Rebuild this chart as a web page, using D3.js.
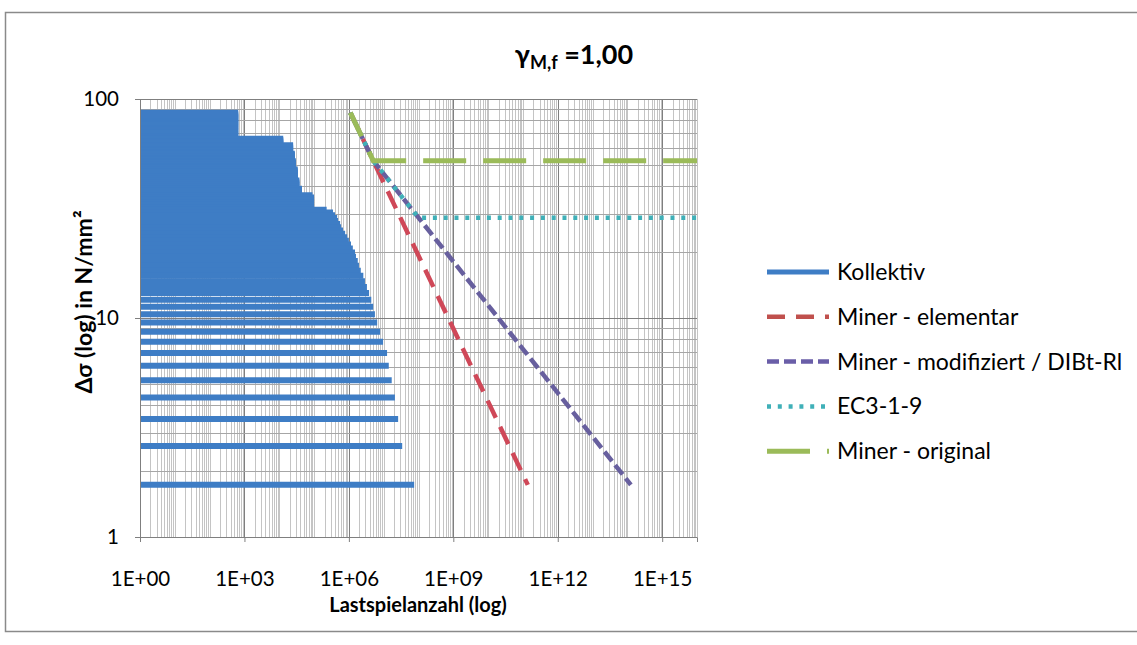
<!DOCTYPE html>
<html>
<head>
<meta charset="utf-8">
<script src="https://cdn.jsdelivr.net/npm/d3@7"></script>
<style>
  body { margin: 0; background: #fff; }
  svg { display: block; }
  text { font-family: Lato, "Open Sans", "Liberation Sans", sans-serif; fill: #000; }
</style>
</head>
<body>
<svg id="chart" width="1137" height="645"></svg>
<script>
// Load spectrum (Kollektiv): stress range levels in N/mm², highest first,
// and the cumulative number of cycles reached at each level.
const stressLevels = [
  86.60, 85.74, 84.87, 84.00, 83.14, 82.27, 81.41, 80.54, 79.67, 78.81,
  77.94, 77.08, 76.21, 75.34, 74.48, 73.61, 72.75, 71.88, 71.01, 70.15,
  69.28, 68.42, 67.55, 66.68, 65.82, 64.95, 64.09, 63.22, 62.35, 61.49,
  60.62, 59.76, 58.89, 58.02, 57.16, 56.29, 55.43, 54.56, 53.69, 52.83,
  51.96, 51.10, 50.23, 49.36, 48.50, 47.63, 46.77, 45.90, 45.03, 44.17,
  43.30, 42.44, 41.57, 40.70, 39.84, 38.97, 38.11, 37.24, 36.37, 35.51,
  34.64, 33.78, 32.91, 32.04, 31.18, 30.31, 29.45, 28.58, 27.71, 26.85,
  25.98, 25.12, 24.25, 23.38, 22.52, 21.65, 20.79, 19.92, 19.05, 18.19,
  17.32, 16.45, 15.59, 14.72, 13.86, 12.99, 12.12, 11.26, 10.39, 9.53,
  8.66, 7.79, 6.93, 6.06, 5.20, 4.33, 3.46, 2.60, 1.73
];
const cycleCounts = [
  6.6e2, 6.6e2, 6.6e2, 6.6e2, 6.6e2, 6.6e2, 6.6e2, 6.6e2, 6.6e2, 6.6e2,
  6.6e2, 6.6e2, 6.6e2, 6.6e2, 6.6e2, 6.6e2, 6.6e2, 6.6e2, 6.6e2, 6.6e2,
  6.6e2, 6.6e2, 6.6e2, 6.6e2, 1.3e4, 1.3e4, 1.3e4, 1.3e4, 1.3e4, 2.5e4,
  2.5e4, 2.5e4, 2.5e4, 2.5e4, 2.5e4, 2.8e4, 2.8e4, 2.8e4, 2.8e4, 2.8e4,
  3.0e4, 3.0e4, 3.0e4, 3.0e4, 3.0e4, 3.4e4, 3.4e4, 3.4e4, 3.4e4, 3.4e4,
  3.4e4, 3.8e4, 3.8e4, 3.8e4, 3.8e4, 4.5e4, 4.5e4, 4.5e4, 9.0e4, 1.0e5,
  1.0e5, 1.0e5, 1.0e5, 1.0e5, 2.3e5, 3.5e5, 4.0e5, 4.6e5, 4.9e5, 5.6e5,
  6.0e5, 6.8e5, 7.8e5, 8.9e5, 1.0e6, 1.15e6, 1.3e6, 1.5e6, 1.6e6, 1.8e6,
  1.95e6, 2.2e6, 2.6e6, 2.9e6, 3.3e6, 3.8e6, 4.4e6, 5.0e6, 5.6e6, 6.5e6,
  7.9e6, 9.6e6, 1.25e7, 1.4e7, 1.7e7, 2.1e7, 2.6e7, 3.4e7, 7.5e7
];

// S-N curves as [cycles, stress range] vertices
const minerElementar   = [[1.1e6, 86.6], [1.38e11, 1.73]];
const minerModifiziert = [[1.1e6, 86.6], [5e6, 52.3], [1.26e14, 1.73]];
const ec319            = [[1.1e6, 86.6], [5e6, 52.3], [1e8, 28.7], [1e16, 28.7]];
const minerOriginal    = [[1.1e6, 86.6], [5e6, 52.3], [1e16, 52.3]];

const seriesNames = ["Kollektiv", "Miner - elementar", "Miner - modifiziert / DIBt-Rl", "EC3-1-9", "Miner - original"];

const xTickValues = [1, 1e3, 1e6, 1e9, 1e12, 1e15];
const xTickLabels = ["1E+00", "1E+03", "1E+06", "1E+09", "1E+12", "1E+15"];
const yTickValues = [1, 10, 100];
const yTickLabels = ["1", "10", "100"];

const svg = d3.select("#chart");

// chart frame
svg.append("rect")
  .attr("x", 5.5).attr("y", 12.5).attr("width", 1140).attr("height", 619)
  .attr("fill", "#fff").attr("stroke", "#8a8a8a").attr("stroke-width", 1.5);

const plot = { left: 140, right: 697, top: 99, bottom: 537 };
const x = d3.scaleLog().domain([1, 1e16]).range([plot.left, plot.right]);
const y = d3.scaleLog().domain([1, 100]).range([plot.bottom, plot.top]);

svg.append("defs").append("clipPath").attr("id", "plotClip")
  .append("rect")
  .attr("x", plot.left).attr("y", plot.top - 4)
  .attr("width", plot.right - plot.left + 4).attr("height", plot.bottom - plot.top + 4);

const crisp = v => Math.round(v) + 0.5;

// vertical gridlines: every 1..9 × 10^n, darker at the labelled decades
const grid = svg.append("g");
const xGridVals = [];
for (let n = 0; n < 16; n++) for (let m = 1; m <= 9; m++) xGridVals.push(m * Math.pow(10, n));
xGridVals.push(1e16);
const xMajorSet = new Set(xTickValues);
grid.selectAll("line.vx").data(xGridVals).join("line")
  .attr("x1", d => crisp(x(d))).attr("x2", d => crisp(x(d)))
  .attr("y1", plot.top).attr("y2", plot.bottom)
  .attr("stroke", d => xMajorSet.has(d) ? "#7f7f7f" : "#c4c4c4")
  .attr("stroke-width", 1);

// horizontal gridlines
const yGridVals = [];
for (let n = 0; n < 2; n++) for (let m = 1; m <= 9; m++) yGridVals.push(m * Math.pow(10, n));
yGridVals.push(100);
const yMajorSet = new Set(yTickValues);
grid.selectAll("line.hy").data(yGridVals).join("line")
  .attr("x1", plot.left).attr("x2", plot.right)
  .attr("y1", d => crisp(y(d))).attr("y2", d => crisp(y(d)))
  .attr("stroke", d => yMajorSet.has(d) ? "#7f7f7f" : "#a6a6a6")
  .attr("stroke-width", 1);

// Kollektiv: one horizontal line per stress level from N = 1 to its cycle count
const spectrum = stressLevels.map((s, i) => ({ s, n: cycleCounts[i] }));
svg.append("g").attr("clip-path", "url(#plotClip)")
  .selectAll("line").data(spectrum).join("line")
  .attr("x1", x(1)).attr("x2", d => x(d.n))
  .attr("y1", d => y(d.s)).attr("y2", d => y(d.s))
  .attr("stroke", "#3e7dc5").attr("stroke-width", 6);

// S-N curves
const line = d3.line().x(d => x(d[0])).y(d => y(d[1]));
const curves = [
  { data: minerElementar,   color: "#cf4858", dash: "19,10", width: 4.5, offset: 0 },
  { data: minerModifiziert, color: "#675f9e", dash: "12,5",  width: 4.5, offset: 0 },
  { data: ec319,            color: "#3fb0b8", dash: "4,6.8", width: 4.5, offset: 0 },
  { data: minerOriginal,    color: "#9bbb59", dash: "43,17", width: 5,   offset: 16.9 }
];
svg.append("g").attr("clip-path", "url(#plotClip)")
  .selectAll("path").data(curves).join("path")
  .attr("d", d => line(d.data))
  .attr("fill", "none")
  .attr("stroke", d => d.color)
  .attr("stroke-width", d => d.width)
  .attr("stroke-dasharray", d => d.dash)
  .attr("stroke-dashoffset", d => d.offset);

// axes
const xAxis = d3.axisBottom(x).tickValues(xTickValues)
  .tickFormat((d, i) => xTickLabels[i]).tickSize(5);
const gx = svg.append("g").attr("transform", `translate(0,${crisp(plot.bottom) - 0.5})`).call(xAxis);
gx.select(".domain").attr("stroke", "#7f7f7f");
gx.selectAll(".tick line").attr("stroke", "#7f7f7f");
gx.selectAll("text").attr("font-size", 20.5).attr("fill", "#000")
  .attr("y", 42).attr("dy", "0.36em");

const yAxis = d3.axisLeft(y).tickValues(yTickValues)
  .tickFormat((d, i) => yTickLabels[i]).tickSize(5).tickPadding(16);
const gy = svg.append("g").attr("transform", `translate(${crisp(plot.left) - 0.5},0)`).call(yAxis);
gy.select(".domain").attr("stroke", "#7f7f7f");
gy.selectAll(".tick line").attr("stroke", "#7f7f7f");
gy.selectAll("text").attr("font-size", 20.5).attr("fill", "#000");

// titles
const title = svg.append("text").attr("x", 574).attr("y", 64)
  .attr("text-anchor", "middle").attr("font-size", 27).attr("font-weight", "bold");
title.append("tspan").text("γ");
title.append("tspan").attr("font-size", 18).attr("dy", 5).text("M,f");
title.append("tspan").attr("dy", -5).text(" =1,00");

svg.append("text").attr("x", 418).attr("y", 612)
  .attr("text-anchor", "middle").attr("font-size", 20).attr("font-weight", "bold")
  .text("Lastspielanzahl (log)");

svg.append("text").attr("transform", "translate(92,302) rotate(-90)")
  .attr("text-anchor", "middle").attr("font-size", 23).attr("font-weight", "bold")
  .text("Δσ (log) in N/mm²");

// legend
const legendStyles = [
  { color: "#3e7dc5", dash: null,    width: 5 },
  { color: "#c0504d", dash: "18,11", width: 4.5 },
  { color: "#6a5ea8", dash: "12,5",  width: 4.5 },
  { color: "#3fb0b8", dash: "4,6.8", width: 4.5 },
  { color: "#9bbb59", dash: "43,17", width: 5 }
];
const legend = svg.append("g");
const rows = legend.selectAll("g").data(seriesNames).join("g")
  .attr("transform", (d, i) => `translate(767,${272 + i * 44.8})`);
rows.append("line")
  .attr("x1", 0).attr("x2", 62).attr("y1", 0).attr("y2", 0)
  .attr("stroke", (d, i) => legendStyles[i].color)
  .attr("stroke-width", (d, i) => legendStyles[i].width)
  .attr("stroke-dasharray", (d, i) => legendStyles[i].dash);
rows.append("text").attr("x", 70).attr("y", 0).attr("dy", "0.35em")
  .attr("font-size", 23).text(d => d);
</script>
</body>
</html>
